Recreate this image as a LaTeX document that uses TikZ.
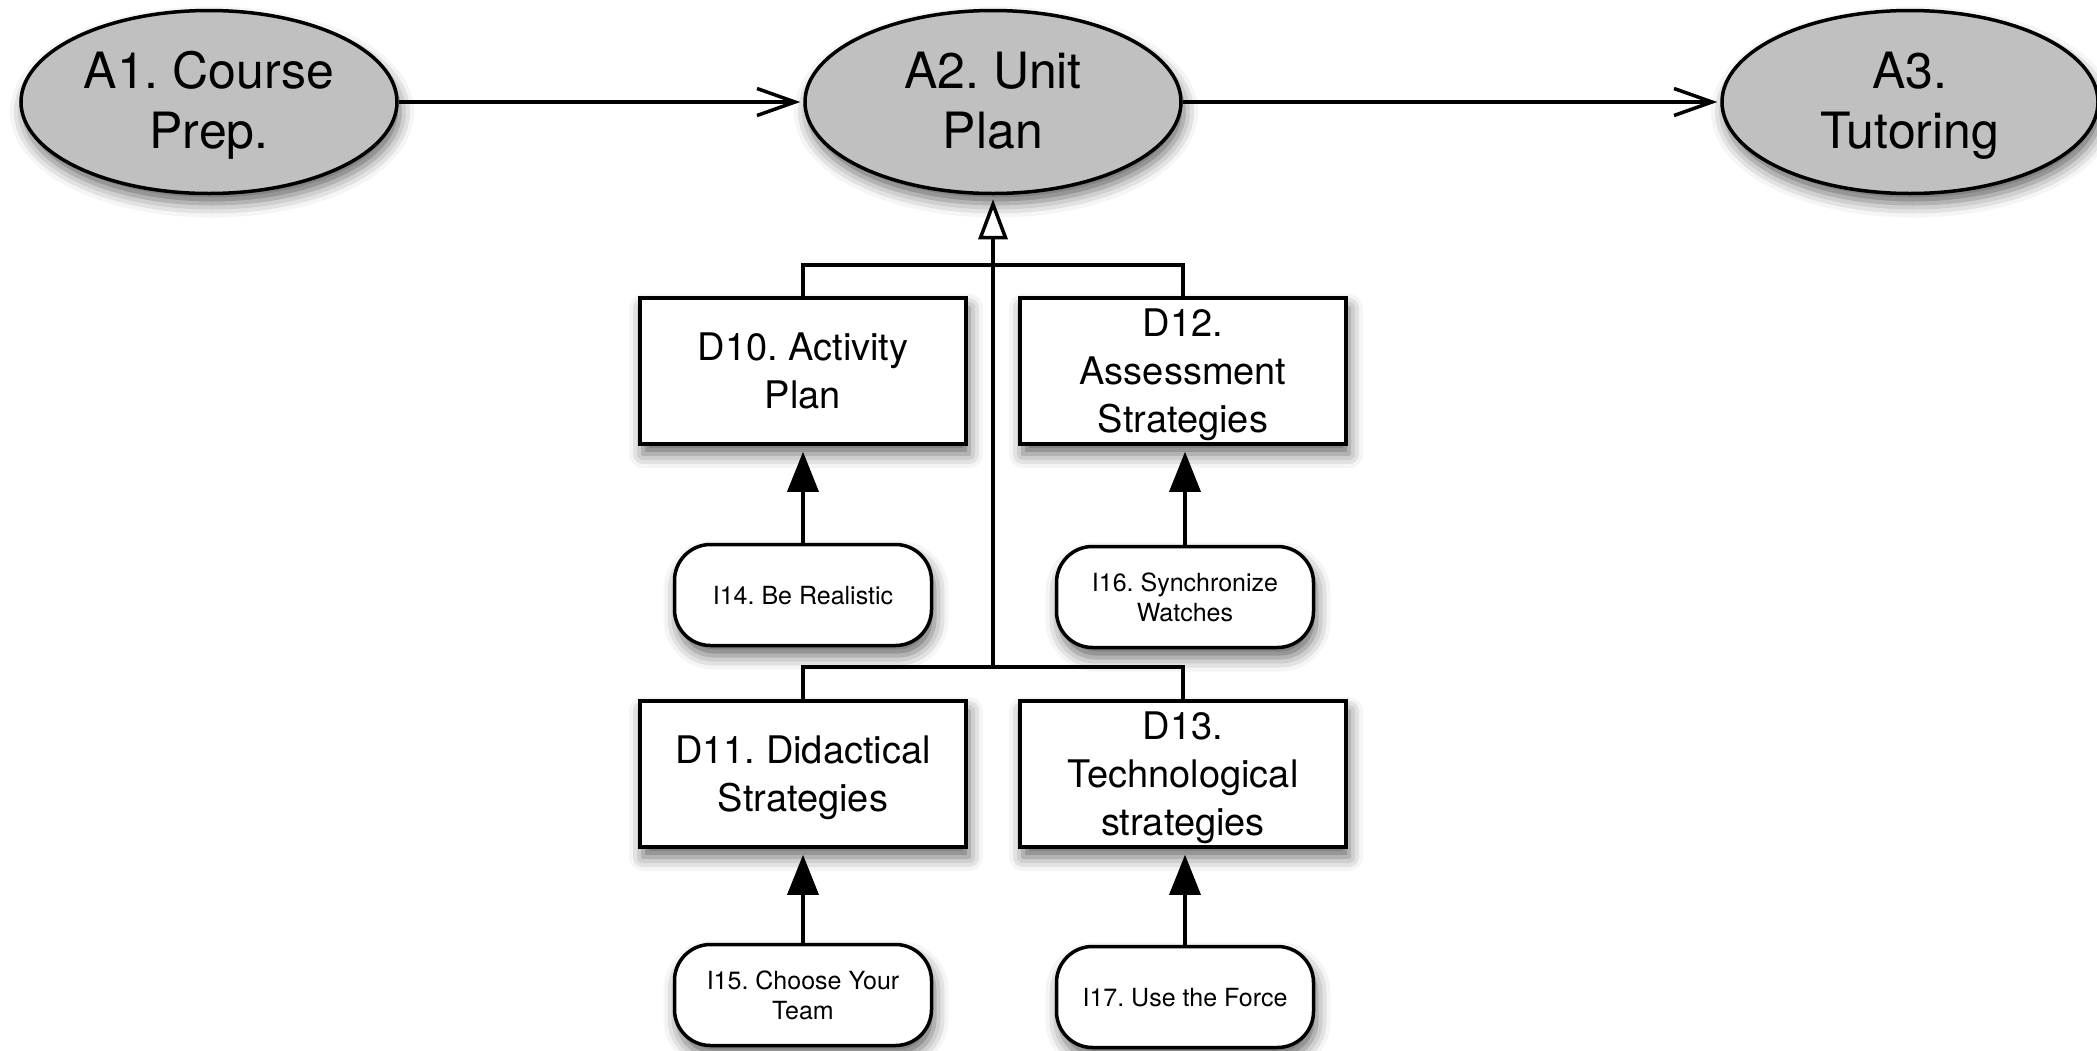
\documentclass[tikz,border=0pt]{standalone}
\usepackage{fontspec}
\setmainfont{TeX Gyre Heros}
\usetikzlibrary{shapes.geometric,arrows.meta,shadows.blur}
\definecolor{ovalgray}{RGB}{192,192,192}
\frenchspacing

\begin{document}
\begin{tikzpicture}[x=1pt,y=-1pt,
  line width=3.5pt,
  dropshade/.style={blur shadow={shadow xshift=3pt,shadow yshift=-10pt,
      shadow blur radius=14pt,shadow opacity=60}},
  actnode/.style={ellipse, draw, fill=ovalgray, minimum width=376pt,
      minimum height=183pt, inner sep=0pt, align=center, text depth=4pt,
      font=\fontsize{50}{60}\selectfont, dropshade},
  decnode/.style={rectangle, draw, fill=white, minimum width=326pt,
      minimum height=146pt, inner sep=0pt, align=center, text depth=0pt,
      font=\fontsize{38}{48}\selectfont, dropshade},
  ideanode/.style={rectangle, rounded corners=36pt, draw, fill=white,
      minimum width=257pt, minimum height=101pt, inner sep=0pt, align=center,
      text depth=-1pt, font=\fontsize{25}{30}\selectfont, dropshade},
  flowarrow/.style={-{Straight Barb[length=38pt,width=27pt]}, shorten >=3pt},
  refinearrow/.style={-{Triangle[length=40pt,width=29pt,fill=white]}, shorten >=4pt},
  supportarrow/.style={-{Triangle[length=40pt,width=31pt]}, shorten >=6pt},
]
\useasboundingbox (0,0) rectangle (2097,1050);

% activities
\node[actnode] (A1) at (209,102) {A1. Course\\Prep.};
\node[actnode] (A2) at (993,102) {A2. Unit\\Plan};
\node[actnode] (A3) at (1910,102) {A3.\\Tutoring};

% decisions
\node[decnode] (D10) at (803,371) {D10. Activity\\Plan};
\node[decnode] (D12) at (1183,371) {D12.\\Assessment\\Strategies};
\node[decnode] (D11) at (803,774) {D11. Didactical\\Strategies};
\node[decnode] (D13) at (1183,774) {D13.\\Technological\\strategies};

% ideas
\node[ideanode] (I14) at (803,595) {I14. Be Realistic};
\node[ideanode] (I16) at (1185,597) {I16. Synchronize\\Watches};
\node[ideanode] (I15) at (803,995) {I15. Choose Your\\Team};
\node[ideanode] (I17) at (1185,997) {I17. Use the Force};

% junctions of the refinement tree
\coordinate (jt) at (993,265);
\coordinate (jb) at (993,667);

% flow between activities
\draw[flowarrow] (A1) -- (A2);
\draw[flowarrow] (A2) -- (A3);

% refinement of A2
\draw[refinearrow] (jb) -- (A2.south);
\draw (D10.north) |- (jt) -| (D12.north);
\draw (D11.north) |- (jb) -| (D13.north);

% ideas supporting decisions
\draw[supportarrow] (I14.north) -- (I14.north |- D10.south);
\draw[supportarrow] (I16.north) -- (I16.north |- D12.south);
\draw[supportarrow] (I15.north) -- (I15.north |- D11.south);
\draw[supportarrow] (I17.north) -- (I17.north |- D13.south);
\end{tikzpicture}
\end{document}
